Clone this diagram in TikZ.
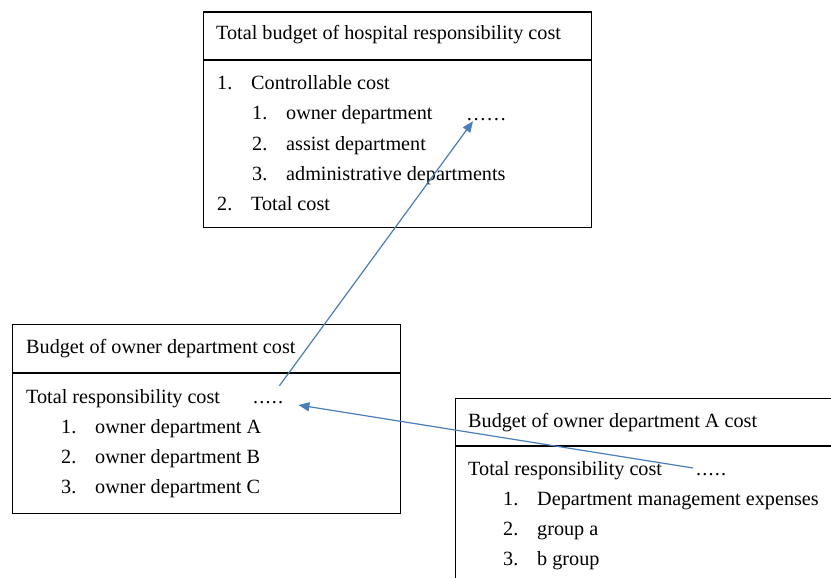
\documentclass[tikz,border=0pt]{standalone}
\usepackage{fontspec}
\setmainfont{Liberation Serif}
\usetikzlibrary{positioning}
\usetikzlibrary{arrows.meta}
\definecolor{linkblue}{RGB}{74,126,187}
\newcommand\itemno[1]{\makebox[34pt][l]{#1}}
\newcommand\fivedots{\makebox[30pt][s]{.\hfill.\hfill.\hfill.\hfill.}}

\begin{document}
\begin{tikzpicture}
      [ x=1pt, y=-1pt, node distance=30pt
        , every node/.style={font=\fontsize{20.2}{24}\selectfont, inner sep=0pt}
        , line/.style={anchor=base west}
        , box/.style={draw, line width=1.2pt, anchor=north west}
        , dots/.style={anchor=base west, text height=14pt, text depth=0pt}
        , flow/.style={draw=linkblue, line width=1.2pt, -{Triangle[length=11pt,width=9pt]}}
      ]
      \useasboundingbox (0,0) rectangle (831,578);

      % hospital budget
      \node (tbox) [box, minimum width=388pt, minimum height=215pt] at (202.5,11.5) {};
      \draw[line width=1.2pt] ([yshift=-48.5pt]tbox.north west) -- ([yshift=-48.5pt]tbox.north east);
      \node (th) [line] at (216,40) {Total budget of hospital responsibility cost};
      \node (t1) [line] at (217,90) {\itemno{1.}Controllable cost};
      \node (t11) [below right=30pt and 35pt of t1.base west, line] {\itemno{1.}owner department};
      \node (t12) [below=of t11.base west, line] {\itemno{2.}assist department};
      \node (t13) [below=of t12.base west, line] {\itemno{3.}administrative departments};
      \node (t2) [below left=30pt and 35pt of t13.base west, line] {\itemno{2.}Total cost};
      \node (dotsT) [dots] at (466,121) {……};

      % owner department budget
      \node (lbox) [box, minimum width=388pt, minimum height=189pt] at (11.5,323.5) {};
      \draw[line width=1.2pt] ([yshift=-49.5pt]lbox.north west) -- ([yshift=-49.5pt]lbox.north east);
      \node (lh) [line] at (26,353) {Budget of owner department cost};
      \node (l0) [line] at (26,403) {Total responsibility cost};
      \node (l1) [below right=30pt and 35pt of l0.base west, line] {\itemno{1.}owner department A};
      \node (l2) [below=of l1.base west, line] {\itemno{2.}owner department B};
      \node (l3) [below=of l2.base west, line] {\itemno{3.}owner department C};
      \node (dotsL) [dots] at (253,403) {\fivedots};

      % department A budget
      \node (rbox) [box, minimum width=400pt, minimum height=200pt] at (454.5,398) {};
      \draw[line width=1.2pt] ([yshift=-48pt]rbox.north west) -- ([yshift=-48pt]rbox.north east);
      \node (rh) [line] at (468,427) {Budget of owner department A cost};
      \node (r0) [line] at (468,475) {Total responsibility cost};
      \node (r1) [below right=30pt and 35pt of r0.base west, line] {\itemno{1.}Department management expenses};
      \node (r2) [below=of r1.base west, line] {\itemno{2.}group a};
      \node (r3) [below=of r2.base west, line] {\itemno{3.}b group};
      \node (dotsR) [dots] at (696,475) {\fivedots};

      \draw[flow] ([xshift=-4pt,yshift=3pt]dotsL.north east) -- ([xshift=7pt]dotsT.south west);
      \draw[flow] ([xshift=-3pt]dotsR.west) -- ([xshift=15pt,yshift=-2pt]dotsL.base east);

    \end{tikzpicture}
\end{document}
